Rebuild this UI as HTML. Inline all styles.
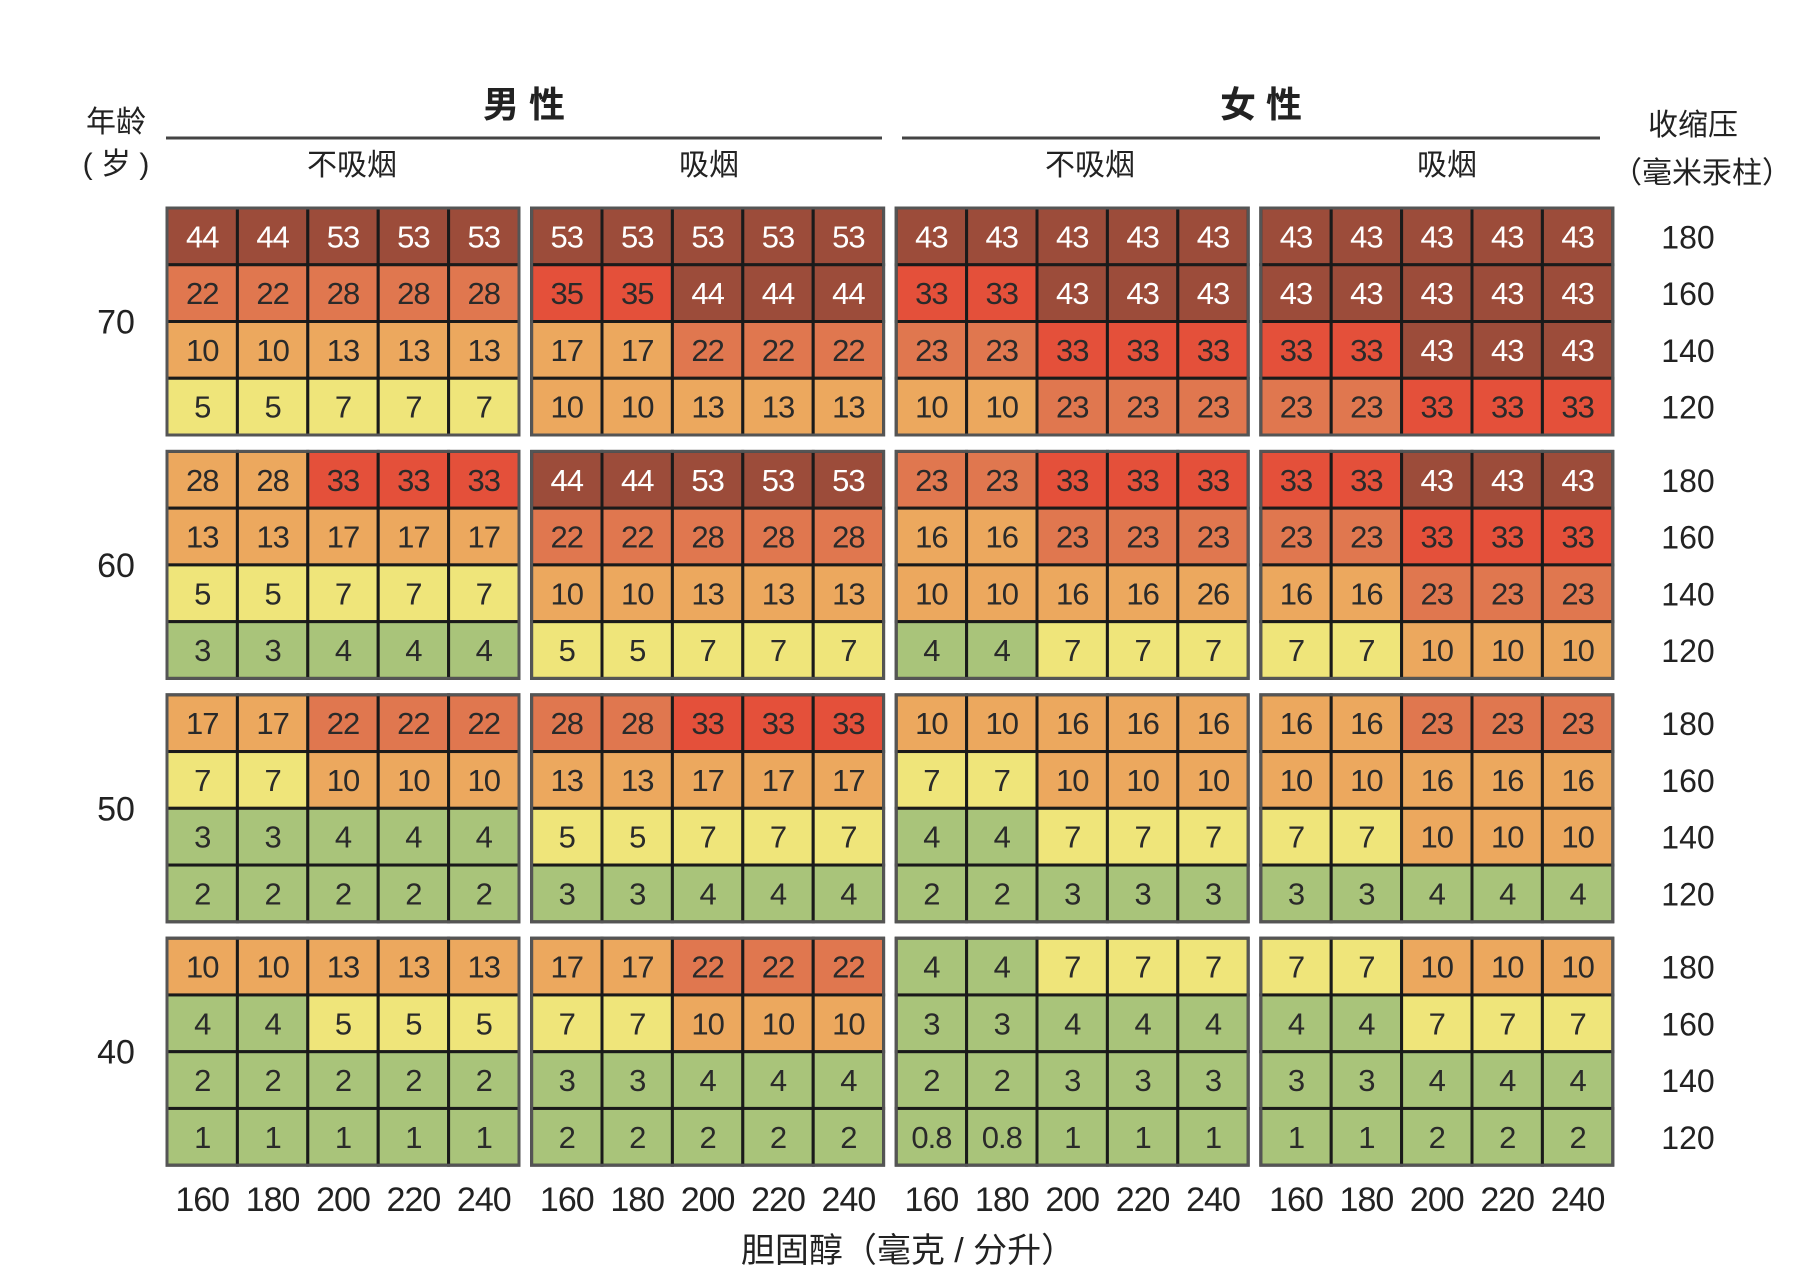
<!DOCTYPE html>
<html><head><meta charset="utf-8">
<style>
html,body{margin:0;padding:0;background:#fff;}
svg{display:block;font-family:"Liberation Sans","Noto Sans CJK SC",sans-serif;}
</style></head>
<body>
<svg id="chart" width="1816" height="1278" viewBox="0 0 1816 1278" xmlns="http://www.w3.org/2000/svg">
<g fill="#222">
<text x="116" y="132" font-size="30" text-anchor="middle">年龄</text>
<text x="116" y="174" font-size="30" text-anchor="middle">( 岁 )</text>
<text x="524" y="117" font-size="36" font-weight="bold" text-anchor="middle">男  性</text>
<text x="1261" y="117" font-size="36" font-weight="bold" text-anchor="middle">女  性</text>
<line x1="166" y1="138" x2="882" y2="138" stroke="#444" stroke-width="3"/>
<line x1="902" y1="138" x2="1600" y2="138" stroke="#444" stroke-width="3"/>
<text x="352" y="175" font-size="30" text-anchor="middle">不吸烟</text>
<text x="709" y="175" font-size="30" text-anchor="middle">吸烟</text>
<text x="1090" y="175" font-size="30" text-anchor="middle">不吸烟</text>
<text x="1447" y="175" font-size="30" text-anchor="middle">吸烟</text>
<text x="1693" y="135" font-size="30" text-anchor="middle">收缩压</text>
<text x="1702" y="183" font-size="30" text-anchor="middle">（毫米汞柱）</text>
<text x="908" y="1262" font-size="34" text-anchor="middle">胆固醇（毫克 / 分升）</text>
</g>
<g id="cells"></g>
</svg>
<script>
const ages = ["70","60","50","40"];
const groups = ["male-nonsmoker","male-smoker","female-nonsmoker","female-smoker"];
const cholTicks = ["160","180","200","220","240"];
const bpTicks = ["180","160","140","120"];
// values[age][group][bpRow][chol]
const values = [
 [[[44,44,53,53,53],[22,22,28,28,28],[10,10,13,13,13],[5,5,7,7,7]],
  [[53,53,53,53,53],[35,35,44,44,44],[17,17,22,22,22],[10,10,13,13,13]],
  [[43,43,43,43,43],[33,33,43,43,43],[23,23,33,33,33],[10,10,23,23,23]],
  [[43,43,43,43,43],[43,43,43,43,43],[33,33,43,43,43],[23,23,33,33,33]]],
 [[[28,28,33,33,33],[13,13,17,17,17],[5,5,7,7,7],[3,3,4,4,4]],
  [[44,44,53,53,53],[22,22,28,28,28],[10,10,13,13,13],[5,5,7,7,7]],
  [[23,23,33,33,33],[16,16,23,23,23],[10,10,16,16,26],[4,4,7,7,7]],
  [[33,33,43,43,43],[23,23,33,33,33],[16,16,23,23,23],[7,7,10,10,10]]],
 [[[17,17,22,22,22],[7,7,10,10,10],[3,3,4,4,4],[2,2,2,2,2]],
  [[28,28,33,33,33],[13,13,17,17,17],[5,5,7,7,7],[3,3,4,4,4]],
  [[10,10,16,16,16],[7,7,10,10,10],[4,4,7,7,7],[2,2,3,3,3]],
  [[16,16,23,23,23],[10,10,16,16,16],[7,7,10,10,10],[3,3,4,4,4]]],
 [[[10,10,13,13,13],[4,4,5,5,5],[2,2,2,2,2],[1,1,1,1,1]],
  [[17,17,22,22,22],[7,7,10,10,10],[3,3,4,4,4],[2,2,2,2,2]],
  [[4,4,7,7,7],[3,3,4,4,4],[2,2,3,3,3],[0.8,0.8,1,1,1]],
  [[7,7,10,10,10],[4,4,7,7,7],[3,3,4,4,4],[1,1,2,2,2]]]
];
// risk level category per cell (0 green .. 5 dark brown)
const levels = [
 [[[5,5,5,5,5],[3,3,3,3,3],[2,2,2,2,2],[1,1,1,1,1]],
  [[5,5,5,5,5],[4,4,5,5,5],[2,2,3,3,3],[2,2,2,2,2]],
  [[5,5,5,5,5],[4,4,5,5,5],[3,3,4,4,4],[2,2,3,3,3]],
  [[5,5,5,5,5],[5,5,5,5,5],[4,4,5,5,5],[3,3,4,4,4]]],
 [[[2,2,4,4,4],[2,2,2,2,2],[1,1,1,1,1],[0,0,0,0,0]],
  [[5,5,5,5,5],[3,3,3,3,3],[2,2,2,2,2],[1,1,1,1,1]],
  [[3,3,4,4,4],[2,2,3,3,3],[2,2,2,2,2],[0,0,1,1,1]],
  [[4,4,5,5,5],[3,3,4,4,4],[2,2,3,3,3],[1,1,2,2,2]]],
 [[[2,2,3,3,3],[1,1,2,2,2],[0,0,0,0,0],[0,0,0,0,0]],
  [[3,3,4,4,4],[2,2,2,2,2],[1,1,1,1,1],[0,0,0,0,0]],
  [[2,2,2,2,2],[1,1,2,2,2],[0,0,1,1,1],[0,0,0,0,0]],
  [[2,2,3,3,3],[2,2,2,2,2],[1,1,2,2,2],[0,0,0,0,0]]],
 [[[2,2,2,2,2],[0,0,1,1,1],[0,0,0,0,0],[0,0,0,0,0]],
  [[2,2,3,3,3],[1,1,2,2,2],[0,0,0,0,0],[0,0,0,0,0]],
  [[0,0,1,1,1],[0,0,0,0,0],[0,0,0,0,0],[0,0,0,0,0]],
  [[1,1,2,2,2],[0,0,1,1,1],[0,0,0,0,0],[0,0,0,0,0]]]
];
const palette = ["#a9c47a","#efe57a","#eca85e","#e0774f","#e4503a","#9c4c3a"];

const NS = "http://www.w3.org/2000/svg";
const svg = document.getElementById("cells");
const panelX0 = 167, panelPitch = 364.6, panelW = 352;
const blockY0 = 208, blockPitch = 243.4, blockH = 227;
const cellW = panelW / 5, cellH = blockH / 4;
const px = (g, c) => panelX0 + g * panelPitch + c * cellW;
const py = (a, r) => blockY0 + a * blockPitch + r * cellH;

function mk(tag, attrs) {
  const el = document.createElementNS(NS, tag);
  for (const k in attrs) el.setAttribute(k, attrs[k]);
  return el;
}

for (let a = 0; a < ages.length; a++) {
  const t = mk("text", {x: 116, y: py(a, 2) + 12, "font-size": 34, "text-anchor": "middle", fill: "#222"});
  
  
  t.textContent = ages[a];
  svg.appendChild(t);
  for (let r = 0; r < bpTicks.length; r++) {
    const bt = mk("text", {x: 1688, y: py(a, r) + cellH / 2 + 12, "font-size": 32, "text-anchor": "middle", fill: "#222"});
    
    
    bt.textContent = bpTicks[r];
    svg.appendChild(bt);
  }
  for (let g = 0; g < groups.length; g++) {
    const panel = mk("g", {});
    
    
    for (let r = 0; r < 4; r++) {
      for (let c = 0; c < 5; c++) {
        const lv = levels[a][g][r][c];
        const rect = mk("rect", {x: px(g, c), y: py(a, r), width: cellW, height: cellH, fill: palette[lv], stroke: "#1a1a1a", "stroke-width": 3});
        
        
        panel.appendChild(rect);
        const tx = mk("text", {x: px(g, c) + cellW / 2, y: py(a, r) + cellH / 2 + 11, "font-size": 31, "text-anchor": "middle", fill: lv === 5 ? "#fff" : "#2a2a2a", "letter-spacing": "-1"});
        
        
        tx.textContent = String(values[a][g][r][c]);
        panel.appendChild(tx);
      }
    }
    const border = mk("rect", {x: px(g, 0), y: py(a, 0), width: panelW, height: blockH, fill: "none", stroke: "#555", "stroke-width": 3});
    
    
    panel.appendChild(border);
    svg.appendChild(panel);
  }
}
for (let g = 0; g < groups.length; g++) {
  for (let c = 0; c < cholTicks.length; c++) {
    const t = mk("text", {x: px(g, c) + cellW / 2, y: 1211, "font-size": 34, "text-anchor": "middle", fill: "#222", "letter-spacing": "-1"});
    
    
    t.textContent = cholTicks[c];
    svg.appendChild(t);
  }
}
</script>
</body></html>
